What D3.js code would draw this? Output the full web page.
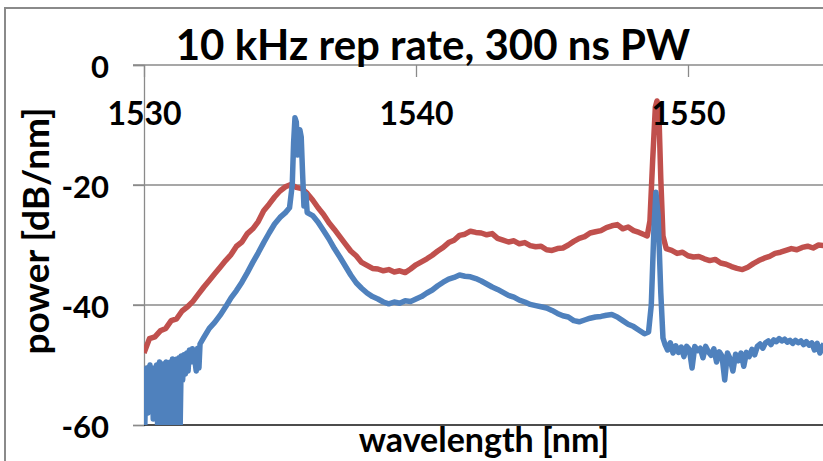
<!DOCTYPE html>
<html>
<head>
<meta charset="utf-8">
<script src="https://cdn.jsdelivr.net/npm/d3@7"></script>
<style>
  body { margin: 0; background: #fff; }
  svg { display: block; font-family: Lato, "Open Sans", sans-serif; font-weight: bold; }
</style>
</head>
<body>
<div id="chart"></div>
<script>
const titleText = "10 kHz rep rate, 300 ns PW";
const xLabel = "wavelength [nm]";
const yLabel = "power [dB/nm]";
const xTicks = [1530, 1540, 1550];
const yTicks = [0, -20, -40, -60];
const gridTicks = [-20, -40];

// red trace
const redWl = [1530.0, 1530.2, 1530.4, 1530.6, 1530.8, 1531.0, 1531.2, 1531.4, 1531.6, 1531.8,
  1532.0, 1532.2, 1532.4, 1532.6, 1532.8, 1533.0, 1533.2, 1533.4, 1533.6, 1533.8,
  1534.0, 1534.2, 1534.4, 1534.6, 1534.8, 1535.0, 1535.2, 1535.4, 1535.6, 1535.8,
  1536.0, 1536.2, 1536.4, 1536.6, 1536.8, 1537.0, 1537.2, 1537.4, 1537.6, 1537.8,
  1538.0, 1538.2, 1538.4, 1538.6, 1538.8, 1539.0, 1539.2, 1539.4, 1539.6, 1539.8,
  1540.0, 1540.2, 1540.4, 1540.6, 1540.8, 1541.0, 1541.2, 1541.4, 1541.6, 1541.8,
  1542.0, 1542.2, 1542.4, 1542.6, 1542.8, 1543.0, 1543.2, 1543.4, 1543.6, 1543.8,
  1544.0, 1544.2, 1544.4, 1544.6, 1544.8, 1545.0, 1545.2, 1545.4, 1545.6, 1545.8,
  1546.0, 1546.2, 1546.4, 1546.6, 1546.8, 1547.0, 1547.2, 1547.4, 1547.6, 1547.8,
  1548.0, 1548.2, 1548.4, 1548.5, 1548.6, 1548.7, 1548.8, 1548.86, 1548.93, 1549.0,
  1549.08, 1549.2, 1549.4, 1549.6, 1549.8, 1550.0, 1550.2, 1550.4, 1550.6, 1550.8,
  1551.0, 1551.2, 1551.4, 1551.6, 1551.8, 1552.0, 1552.2, 1552.4, 1552.6, 1552.8,
  1553.0, 1553.2, 1553.4, 1553.6, 1553.8, 1554.0, 1554.2, 1554.4, 1554.6, 1554.8, 1555.0];
const redDb = [-48.0, -45.6, -45.3, -44.3, -43.9, -42.6, -42.3, -41.0, -40.3, -39.4,
  -38.2, -37.0, -35.9, -34.8, -33.7, -32.6, -31.6, -30.2, -29.5, -28.1,
  -27.3, -26.1, -24.3, -23.2, -22.0, -21.0, -20.3, -19.9, -20.4, -20.6,
  -21.4, -22.5, -23.8, -24.9, -26.3, -27.4, -28.6, -29.8, -31.0, -31.8,
  -32.9, -33.4, -33.9, -34.0, -34.3, -34.1, -34.5, -34.3, -34.6, -34.0,
  -33.3, -32.8, -32.3, -31.7, -31.0, -30.4, -29.6, -29.2, -28.4, -28.2,
  -27.7, -27.9, -28.0, -28.3, -28.1, -28.9, -29.2, -29.5, -29.3, -29.8,
  -29.6, -30.1, -30.3, -30.2, -30.8, -30.9, -30.6, -30.5, -30.0, -29.4,
  -28.9, -28.6, -28.0, -27.8, -27.6, -27.1, -26.8, -26.6, -27.3, -27.0,
  -27.6, -27.9, -28.3, -28.5, -26.0, -16.0, -7.0, -6.0, -8.0, -19.0,
  -28.5, -30.6, -30.9, -31.4, -31.2, -31.8, -32.0, -31.9, -32.3, -32.6,
  -32.4, -33.0, -33.2, -33.6, -33.9, -34.1, -33.7, -33.1, -32.6, -32.2,
  -31.9, -31.4, -31.2, -30.9, -30.6, -30.8, -30.4, -30.2, -30.5, -30.0, -30.1];

// blue trace
const blueWl = [1530.00, 1530.03, 1530.07, 1530.10, 1530.14, 1530.18, 1530.22, 1530.26, 1530.30, 1530.34,
  1530.38, 1530.42, 1530.46, 1530.50, 1530.53, 1530.57, 1530.61, 1530.65, 1530.69, 1530.73,
  1530.77, 1530.81, 1530.85, 1530.89, 1530.93, 1530.97, 1531.01, 1531.05, 1531.09, 1531.13,
  1531.17, 1531.21, 1531.25, 1531.29, 1531.33, 1531.37, 1531.42, 1531.47, 1531.52, 1531.57,
  1531.62, 1531.67, 1531.72, 1531.78, 1531.85, 1531.92, 1531.97, 1532.02, 1532.06, 1532.2,
  1532.4, 1532.6, 1532.8, 1533.0, 1533.2, 1533.4, 1533.6, 1533.8, 1534.0, 1534.2,
  1534.4, 1534.6, 1534.8, 1535.0, 1535.2, 1535.35, 1535.45, 1535.5, 1535.55, 1535.6,
  1535.65, 1535.68, 1535.73, 1535.78, 1535.83, 1535.88, 1535.95, 1536.0, 1536.2, 1536.4,
  1536.6, 1536.8, 1537.0, 1537.2, 1537.4, 1537.6, 1537.8, 1538.0, 1538.2, 1538.4,
  1538.6, 1538.8, 1539.0, 1539.2, 1539.4, 1539.6, 1539.8, 1540.0, 1540.2, 1540.4,
  1540.6, 1540.8, 1541.0, 1541.2, 1541.4, 1541.6, 1541.8, 1542.0, 1542.2, 1542.4,
  1542.6, 1542.8, 1543.0, 1543.2, 1543.4, 1543.6, 1543.8, 1544.0, 1544.2, 1544.4,
  1544.6, 1544.8, 1545.0, 1545.2, 1545.4, 1545.6, 1545.8, 1546.0, 1546.2, 1546.4,
  1546.6, 1546.8, 1547.0, 1547.2, 1547.4, 1547.6, 1547.8, 1548.0, 1548.2, 1548.4,
  1548.55, 1548.65, 1548.75, 1548.82, 1548.9, 1549.0, 1549.08, 1549.15, 1549.25, 1549.35,
  1549.45, 1549.55, 1549.65, 1549.75, 1549.85, 1549.95, 1550.05, 1550.15, 1550.25, 1550.35,
  1550.45, 1550.55, 1550.65, 1550.75, 1550.85, 1550.95, 1551.05, 1551.15, 1551.25, 1551.35,
  1551.45, 1551.55, 1551.65, 1551.75, 1551.85, 1551.95, 1552.05, 1552.15, 1552.25, 1552.35,
  1552.45, 1552.55, 1552.65, 1552.75, 1552.85, 1552.95, 1553.05, 1553.15, 1553.25, 1553.35,
  1553.45, 1553.55, 1553.65, 1553.75, 1553.85, 1553.95, 1554.05, 1554.15, 1554.25, 1554.35,
  1554.45, 1554.55, 1554.65, 1554.75, 1554.85, 1554.95, 1555.0];
const blueDb = [-51.0, -60.0, -52.0, -50.5, -58.0, -51.0, -50.0, -55.0, -50.5, -59.0,
  -50.5, -52.0, -50.0, -60.0, -51.0, -49.5, -56.0, -50.0, -60.0, -49.8,
  -52.0, -49.5, -60.0, -50.0, -53.0, -49.5, -60.0, -49.0, -55.0, -49.3,
  -60.0, -49.0, -54.5, -48.8, -60.0, -48.5, -52.5, -48.3, -51.5, -48.0,
  -51.0, -47.5, -49.5, -47.3, -48.5, -51.0, -47.2, -50.5, -46.5, -45.4,
  -43.9, -42.9, -41.7, -40.3, -38.8, -37.6, -36.2, -34.6, -32.9, -31.3,
  -29.6, -28.0, -26.5, -25.4, -24.6, -23.8, -20.0, -13.0, -8.8, -9.5,
  -15.0, -13.0, -10.8, -12.0, -18.0, -23.5, -21.5, -24.6, -25.1, -26.2,
  -27.6, -29.0, -30.6, -32.0, -33.5, -35.0, -36.3, -37.2, -38.0, -38.6,
  -39.0, -39.5, -39.8, -39.5, -39.7, -39.3, -39.4, -39.0, -38.6, -38.0,
  -37.5, -36.8, -36.2, -35.7, -35.4, -35.0, -35.2, -35.3, -35.6, -36.0,
  -36.5, -37.0, -37.4, -37.9, -38.4, -38.7, -39.2, -39.5, -39.9, -40.1,
  -40.3, -40.5, -40.9, -41.4, -41.8, -42.0, -42.6, -42.8, -42.5, -42.2,
  -42.0, -41.9, -41.7, -41.6, -42.0, -42.6, -43.2, -43.6, -44.2, -44.8,
  -44.5, -40.0, -27.0, -21.2, -25.0, -38.0, -45.5, -46.5, -47.5, -46.3,
  -48.0, -46.8, -47.9, -47.0, -48.6, -46.9, -47.4, -50.5, -46.9, -47.6,
  -47.2, -48.8, -46.9, -47.8, -48.4, -47.3, -49.5, -47.8, -48.5, -52.5,
  -48.0, -49.0, -51.0, -48.2, -49.3, -48.0, -50.2, -47.9, -48.6, -47.4,
  -48.3, -46.9, -46.5, -47.2, -46.3, -46.0, -46.6, -45.8, -46.1, -45.6,
  -46.0, -45.7, -46.2, -45.9, -46.4, -45.9, -46.3, -46.0, -46.6, -46.1,
  -46.7, -46.3, -47.5, -46.4, -48.0, -46.8, -46.5];

const width = 823, height = 461;
const plot = { left: 144, right: 824, top: 65, bottom: 425 };

const svg = d3.select("#chart")
  .append("svg")
  .attr("width", width)
  .attr("height", height);

const x = d3.scaleLinear().domain([1530, 1555]).range([plot.left, plot.right]);
const y = d3.scaleLinear().domain([-60, 0]).range([plot.bottom, plot.top]);

// outer chart frame (runs past the right and bottom edge)
svg.append("rect")
  .attr("x", 5).attr("y", 8)
  .attr("width", 900).attr("height", 500)
  .attr("fill", "none")
  .attr("stroke", "#8a8a8a")
  .attr("stroke-width", 2);

// horizontal gridlines
svg.append("g")
  .selectAll("line")
  .data(gridTicks)
  .enter().append("line")
  .attr("x1", plot.left - 11).attr("x2", plot.right)
  .attr("y1", d => y(d)).attr("y2", d => y(d))
  .attr("stroke", "#8a8a8a")
  .attr("stroke-width", 1.3);

// y axis
const yAxis = svg.append("g")
  .attr("transform", `translate(${plot.left}, 0)`)
  .call(d3.axisLeft(y).tickValues(yTicks).tickSize(11).tickPadding(24).tickFormat(d => String(d)));
yAxis.select(".domain").attr("stroke", "#8a8a8a").attr("stroke-width", 1.3);
yAxis.selectAll(".tick line").attr("stroke", "#8a8a8a").attr("stroke-width", 1.3);
yAxis.selectAll("text")
  .attr("dy", "0.4em")
  .style("font-size", "31px")
  .style("font-family", "Lato")
  .style("font-weight", "bold")
  .attr("fill", "#000");

// bottom line at -60
svg.append("line")
  .attr("x1", plot.left).attr("x2", plot.right)
  .attr("y1", y(-60)).attr("y2", y(-60))
  .attr("stroke", "#111")
  .attr("stroke-width", 1.6);

// traces
svg.append("defs").append("clipPath").attr("id", "plotClip")
  .append("rect")
  .attr("x", plot.left).attr("y", plot.top)
  .attr("width", plot.right - plot.left).attr("height", plot.bottom - plot.top);

const line = d3.line()
  .x(d => x(d[0]))
  .y(d => y(d[1]));

const redPts = redWl.map((w, i) => [w, redDb[i]]);
const bluePts = blueWl.map((w, i) => [w, blueDb[i]]);

const traces = svg.append("g").attr("clip-path", "url(#plotClip)");
traces.append("path")
  .attr("d", line(redPts))
  .attr("fill", "none")
  .attr("stroke", "#C0504D")
  .attr("stroke-width", 5.5)
  .attr("stroke-linejoin", "round");
traces.append("path")
  .attr("d", line(bluePts))
  .attr("fill", "none")
  .attr("stroke", "#4F81BD")
  .attr("stroke-width", 5.5)
  .attr("stroke-linejoin", "round");

// x axis sits on the 0 dB line, labels below it
const xAxis = svg.append("g")
  .attr("transform", `translate(0, ${y(0)})`)
  .call(d3.axisBottom(x).tickValues(xTicks).tickSize(12).tickFormat(d => String(d)));
xAxis.select(".domain").attr("stroke", "#8a8a8a").attr("stroke-width", 1.3)
  .attr("d", `M${plot.left - 11},0H${plot.right}`);
xAxis.selectAll(".tick line").attr("stroke", "#8a8a8a").attr("stroke-width", 1.3);
xAxis.selectAll("text")
  .attr("y", 60).attr("dy", 0)
  .style("font-size", "32px")
  .style("font-family", "Lato")
  .style("font-weight", "bold")
  .attr("fill", "#000");

// title
svg.append("text")
  .attr("x", 433).attr("y", 60)
  .attr("text-anchor", "middle")
  .style("font-size", "42px")
  .text(titleText);

// axis titles
svg.append("text")
  .attr("x", 484).attr("y", 452)
  .attr("text-anchor", "middle")
  .style("font-size", "34px")
  .text(xLabel);

svg.append("text")
  .attr("transform", "translate(49, 231) rotate(-90)")
  .attr("text-anchor", "middle")
  .style("font-size", "37px")
  .text(yLabel);
</script>
</body>
</html>
